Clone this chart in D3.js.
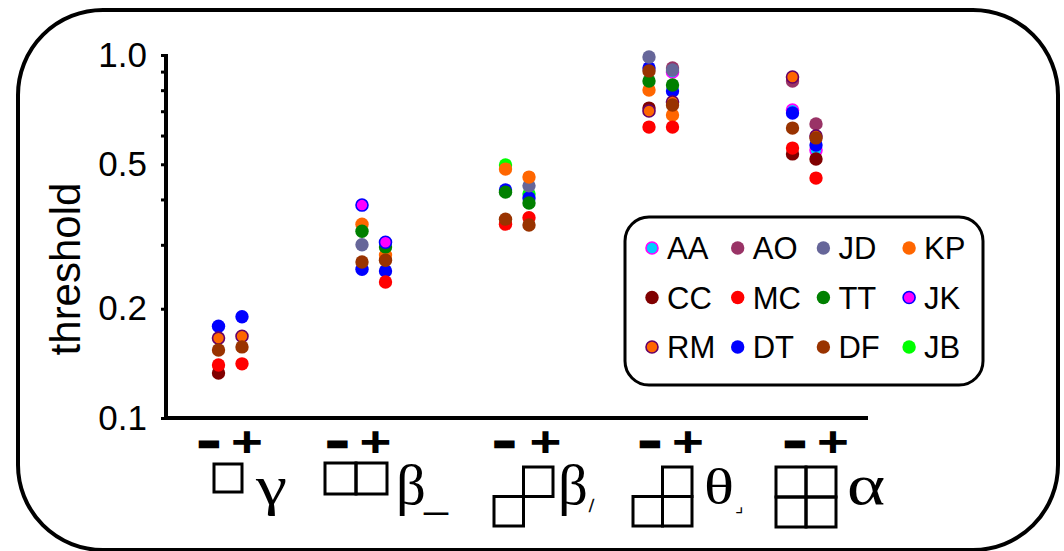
<!DOCTYPE html>
<html>
<head>
<meta charset="utf-8">
<script src="https://cdn.jsdelivr.net/npm/d3@7"></script>
<style>
  body { margin: 0; background: #fff; }
  svg { display: block; }
</style>
</head>
<body>
<script>
// subjects, in legend order (row by row)
var subjects = ["AA", "AO", "JD", "KP", "CC", "MC", "TT", "JK", "RM", "DT", "DF", "JB"];
var fills   = ["#00ccff", "#993366", "#666699", "#ff6600", "#800000", "#ff0000", "#008000", "#ff00ff", "#ff6600", "#0000ff", "#993300", "#00ff00"];
var strokes = ["#ff00ff", null, null, null, null, null, null, "#0000ff", "#660066", null, null, null];

var groups = ["g1", "g2", "g3", "g4", "g5"];
var conditions = ["-", "+"];

// thresholds per subject: [g1-, g1+, g2-, g2+, g3-, g3+, g4-, g4+, g5-, g5+]
var thresholds = {
    AA: [null, null, null, null, null, null, null, 0.898, 0.705, 0.547],
    AO: [null, null, null, null, null, null, null, 0.921, 0.848, 0.646],
    JD: [null, null, 0.300, null, null, 0.436, 0.987, 0.909, null, null],
    KP: [null, null, 0.342, 0.281, 0.485, 0.461, 0.801, 0.683, null, null],
    CC: [0.133, null, null, null, null, null, 0.714, null, 0.534, 0.517],
    MC: [0.140, 0.141, null, 0.237, 0.342, 0.356, 0.633, 0.633, 0.554, 0.458],
    TT: [null, null, 0.327, 0.296, 0.419, 0.391, 0.848, 0.827, null, null],
    JK: [null, null, 0.386, 0.305, null, null, null, null, null, null],
    RM: [0.166, 0.168, null, null, null, null, 0.701, 0.742, 0.870, 0.598],
    DT: [0.179, 0.190, 0.257, 0.254, 0.425, 0.404, 0.921, 0.796, 0.692, 0.565],
    DF: [0.154, 0.157, 0.269, 0.272, 0.353, 0.340, 0.904, 0.728, 0.629, 0.591],
    JB: [null, null, null, null, 0.498, 0.414, null, null, null, null]
};
var drawOrder = ["AA", "JB", "DT", "AO", "JD", "KP", "CC", "MC", "TT", "JK", "RM", "DF"];

var yTicks = [0.1, 0.2, 0.3, 0.4, 0.5, 0.6, 0.7, 0.8, 0.9, 1.0];
var yLabels = [0.1, 0.2, 0.5, 1.0];

// shape glyphs under each group: filled cells [col,row], greek letter, subscript
var glyphCells = [
    [[0, 0]],
    [[0, 0], [1, 0]],
    [[1, 0], [0, 1]],
    [[1, 0], [0, 1], [1, 1]],
    [[0, 0], [1, 0], [0, 1], [1, 1]]
];
var glyphLetters = ["γ", "β", "β", "θ", "α"];
var glyphSubs = ["", "_", "/", "⌟", ""];

var width = 1064, height = 551;

var svg = d3.select("body").append("svg")
    .attr("width", width)
    .attr("height", height);

// outer rounded frame
svg.append("rect")
    .attr("x", 18).attr("y", 10)
    .attr("width", 1040).attr("height", 540)
    .attr("rx", 85).attr("ry", 85)
    .style("fill", "none")
    .style("stroke", "#000")
    .style("stroke-width", 4);

var plot = { left: 166, right: 868, top: 55, bottom: 418 };

var y = d3.scaleLog()
    .domain([0.1, 1])
    .range([plot.bottom, plot.top]);

var x = d3.scalePoint()
    .domain(groups)
    .range([230.5, 804.5]);

var condOffset = { "-": -12, "+": 11.5 };

// y axis
var yAxis = svg.append("g")
    .attr("transform", "translate(" + plot.left + ",0)")
    .call(d3.axisLeft(y)
        .tickValues(yTicks)
        .tickSize(5)
        .tickPadding(14)
        .tickFormat(function(d) {
            return yLabels.indexOf(d) >= 0 ? d3.format(".1f")(d) : "";
        }));
yAxis.select(".domain").remove();
yAxis.selectAll(".tick line")
    .style("stroke", "#000")
    .style("stroke-width", 3);
yAxis.selectAll(".tick text")
    .style("font-family", "Liberation Sans, Arial, sans-serif")
    .style("font-size", "35px")
    .style("fill", "#000");

svg.append("path")
    .attr("d", "M" + plot.left + "," + (plot.top - 1) + "V" + plot.bottom + "H" + plot.right)
    .style("fill", "none")
    .style("stroke", "#000")
    .style("stroke-width", 4);

svg.append("text")
    .attr("transform", "translate(80,269) rotate(-90)")
    .attr("text-anchor", "middle")
    .style("font-family", "Liberation Sans, Arial, sans-serif")
    .style("font-size", "42px")
    .text("threshold");

// - / + labels
var signX = [[-21.5, 16.5], [-36.5, 1.5], [-13, 28], [-11, 27], [-9.5, 28.5]];
groups.forEach(function(g, i) {
    conditions.forEach(function(c, j) {
        svg.append("text")
            .attr("transform", "translate(" + (x(g) + signX[i][j]) + "," + (c === "+" ? 456 : 453) + ")" + (c === "+" ? " scale(1.3,1)" : ""))
            .attr("text-anchor", "middle")
            .style("font-family", "Liberation Sans, Arial, sans-serif")
            .style("font-weight", "bold")
            .style("font-size", c === "+" ? "42px" : "32px")
            .style("stroke", c === "-" ? "#000" : "none")
            .style("stroke-width", c === "-" ? 4.5 : 0)
            .text(c === "-" ? "–" : "+");
    });
});

// shape glyphs
var glyphOrigin = [[214, 464, 28], [325, 463, 31], [494, 467, 29.5], [633, 467, 29.5], [776, 467, 30]];
var letterX = [256, 396, 558, 704, 847];
var letterStretch = [1.3, 1.05, 1.05, 1.25, 1.3];
var letterSize = [54, 56, 56, 50, 56];
var subX = [0, 424, 589, 735, 0];
groups.forEach(function(g, i) {
    var o = glyphOrigin[i];
    svg.append("g").selectAll("rect")
        .data(glyphCells[i])
        .enter().append("rect")
        .attr("x", function(d) { return o[0] + d[0] * o[2]; })
        .attr("y", function(d) { return o[1] + d[1] * o[2]; })
        .attr("width", o[2])
        .attr("height", o[2])
        .style("fill", "none")
        .style("stroke", "#000")
        .style("stroke-width", 3);
    svg.append("text")
        .attr("transform", "translate(" + letterX[i] + ",504) scale(" + letterStretch[i] + ",1)")
        .style("font-family", "Liberation Serif, Times New Roman, serif")
        .style("font-size", letterSize[i] + "px")
        .text(glyphLetters[i]);
    if (glyphSubs[i]) {
        var sub = glyphSubs[i];
        svg.append("text")
            .attr("x", subX[i])
            .attr("y", sub === "_" ? 509 : 512)
            .style("font-family", sub === "⌟" ? "DejaVu Sans, sans-serif" : "Liberation Serif, serif")
            .style("font-size", sub === "_" ? "48px" : "18px")
            .style("stroke", sub === "/" ? "#000" : "none")
            .style("stroke-width", 0.6)
            .text(sub);
    }
});

// points
var points = [];
drawOrder.forEach(function(s) {
    var k = subjects.indexOf(s);
    thresholds[s].forEach(function(v, i) {
        if (v === null) return;
        points.push({
            subject: s,
            group: groups[Math.floor(i / 2)],
            cond: conditions[i % 2],
            value: v,
            fill: fills[k],
            stroke: strokes[k]
        });
    });
});

svg.append("g").selectAll("circle")
    .data(points)
    .enter().append("circle")
    .attr("cx", function(d) { return x(d.group) + condOffset[d.cond]; })
    .attr("cy", function(d) { return y(d.value); })
    .attr("r", function(d) { return d.stroke ? 6 : 6.7; })
    .style("fill", function(d) { return d.fill; })
    .style("stroke", function(d) { return d.stroke || "none"; })
    .style("stroke-width", 1.6);

// legend
var legend = svg.append("g");
legend.append("rect")
    .attr("x", 625).attr("y", 217)
    .attr("width", 358).attr("height", 168)
    .attr("rx", 24).attr("ry", 24)
    .style("fill", "#fff")
    .style("stroke", "#000")
    .style("stroke-width", 3);

var legendItem = legend.selectAll(".item")
    .data(subjects)
    .enter().append("g")
    .attr("class", "item")
    .attr("transform", function(d, i) {
        return "translate(" + (652 + (i % 4) * 85.7) + "," + (248 + Math.floor(i / 4) * 49.5) + ")";
    });

legendItem.append("circle")
    .attr("r", function(d, i) { return strokes[i] ? 6 : 6.7; })
    .style("fill", function(d, i) { return fills[i]; })
    .style("stroke", function(d, i) { return strokes[i] || "none"; })
    .style("stroke-width", 1.6);

legendItem.append("text")
    .attr("x", 15)
    .attr("y", 11)
    .style("font-family", "Liberation Sans, Arial, sans-serif")
    .style("font-size", "31px")
    .text(function(d) { return d; });
</script>
</body>
</html>
